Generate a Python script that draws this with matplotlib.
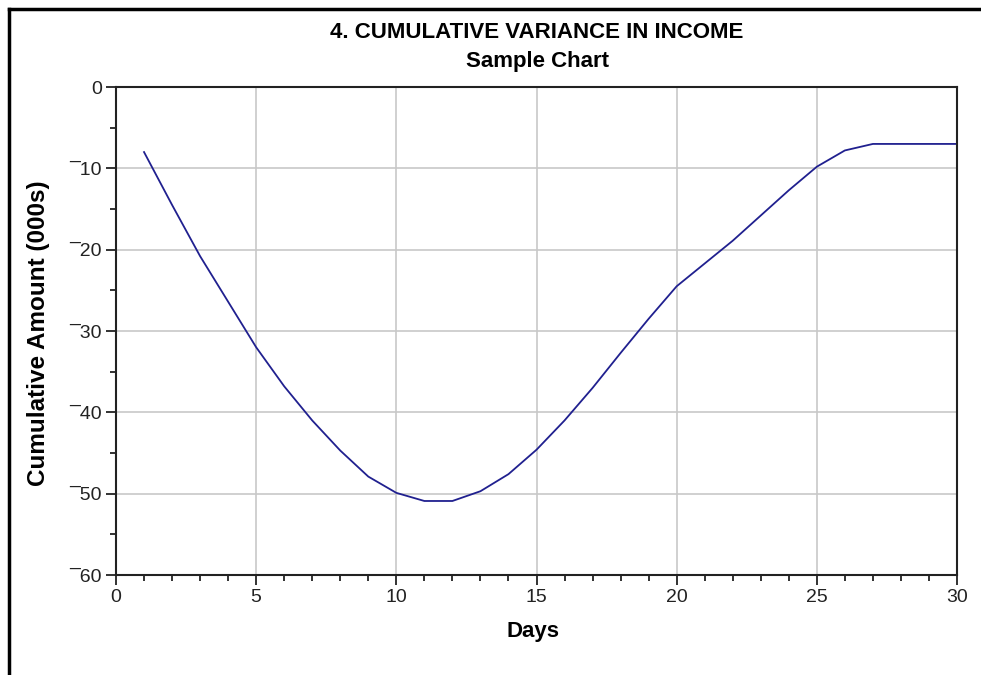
import matplotlib
matplotlib.use("Agg")
import matplotlib.pyplot as plt
from matplotlib.lines import Line2D
from matplotlib.ticker import MultipleLocator, FuncFormatter

# daily cumulative variance
days = list(range(1, 31))
amount = [-8, -14.5, -20.8, -26.4, -32, -36.8, -41, -44.7, -47.9, -49.9,
          -50.9, -50.9, -49.7, -47.6, -44.6, -41, -37, -32.7, -28.5, -24.5,
          -21.7, -18.9, -15.8, -12.7, -9.8, -7.8, -7, -7, -7, -7]

title = "4. CUMULATIVE VARIANCE IN INCOME"
subtitle = "Sample Chart"
xlabel = "Days"
ylabel = "Cumulative Amount (000s)"

narrow = ["Liberation Sans Narrow", "Liberation Sans", "DejaVu Sans"]
wide = ["Liberation Sans", "DejaVu Sans"]

fig = plt.figure(figsize=(9.81, 6.75), dpi=100)
W, H = 981, 675
ax = fig.add_axes([116 / W, 1 - 575 / H, 841 / W, 488 / H])

ax.plot(days, amount, color="#20208f", lw=1.3)

ax.set_xlim(0, 30)
ax.set_ylim(-60, 0)
ax.xaxis.set_major_locator(MultipleLocator(5))
ax.xaxis.set_minor_locator(MultipleLocator(1))
ax.yaxis.set_major_locator(MultipleLocator(10))
ax.yaxis.set_minor_locator(MultipleLocator(5))


def neg(v, pos):
    v = int(round(v))
    return "\u00af" + str(-v) if v < 0 else str(v)


ax.yaxis.set_major_formatter(FuncFormatter(neg))
ax.grid(True, which="major", color="#c8c8c8", lw=1.2)
ax.set_axisbelow(True)
for s in ax.spines.values():
    s.set_linewidth(1.5)
    s.set_color("#222222")
ax.tick_params(which="major", length=7, width=1.3, color="#222222", pad=3)
ax.tick_params(which="minor", length=4, width=1.3, color="#222222")
for lab in ax.get_xticklabels() + ax.get_yticklabels():
    lab.set_family(narrow)
    lab.set_fontsize(14)
    lab.set_color("#222222")

fig.text(537 / W, 1 - 33 / H, title, ha="center", va="center",
         family=narrow, fontweight="bold", fontsize=16)
fig.text(537 / W, 1 - 62 / H, subtitle, ha="center", va="center",
         family=narrow, fontweight="bold", fontsize=16)
fig.text(533 / W, 1 - 632 / H, xlabel, ha="center", va="center",
         family=narrow, fontweight="bold", fontsize=16)
fig.text(39 / W, 1 - 333 / H, ylabel, ha="center", va="center", rotation=90,
         family=wide, fontweight="bold", fontsize=17.5)

# frame around the picture (top and left edges only are visible)
fig.add_artist(Line2D([9 / W, 1], [1 - 9 / H, 1 - 9 / H], color="black", lw=2.5))
fig.add_artist(Line2D([9 / W, 9 / W], [0, 1 - 9 / H], color="black", lw=2.5))

fig.savefig("out.png", dpi=100)
